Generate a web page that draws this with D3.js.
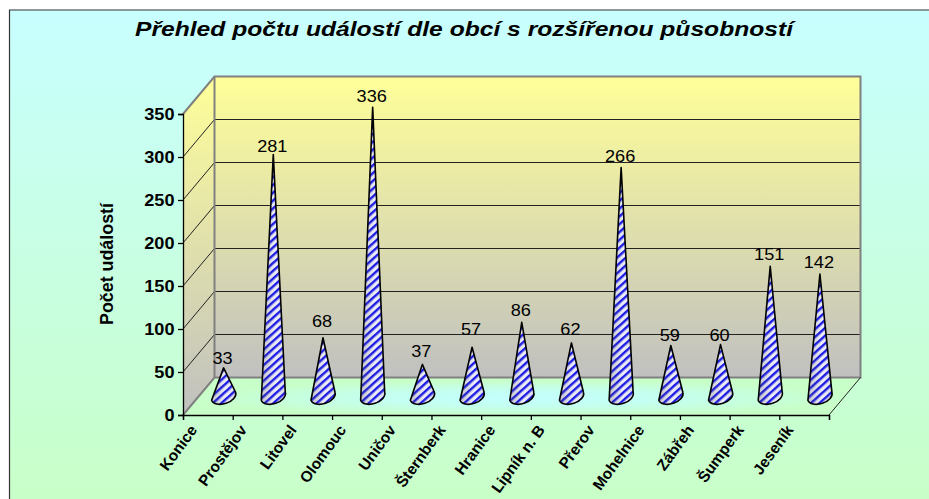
<!DOCTYPE html>
<html>
<head>
<meta charset="utf-8">
<script src="https://cdn.jsdelivr.net/npm/d3@7"></script>
<style>
html,body{margin:0;padding:0;background:#fff;}
svg{display:block;}
text{font-family:"Liberation Sans",Arial,sans-serif;fill:#000;}
</style>
</head>
<body>
<div id="chart"></div>
<script>
const categories = ["Konice","Prostějov","Litovel","Olomouc","Uničov","Šternberk","Hranice","Lipník n. B","Přerov","Mohelnice","Zábřeh","Šumperk","Jeseník"];
const values = [33,281,68,336,37,57,86,62,266,59,60,151,142];
const labelLift = [3.7,3,11,5.5,7.5,12,6,8,5,5,3.5,6,6];
const yTicks = [0,50,100,150,200,250,300,350];
const titleText = "Přehled počtu událostí dle obcí s rozšířenou působností";
const yTitle = "Počet událostí";

const W = 929, H = 499;
const plotLeft = 183, plotRight = 829, plotBottom = 415, plotTop = 114;
const depthX = 31.5, depthY = -37.5;

const svg = d3.select("#chart").append("svg").attr("width", W).attr("height", H);
const defs = svg.append("defs");

function vGrad(id, c1, c2){
  const g = defs.append("linearGradient").attr("id", id).attr("x1",0).attr("y1",0).attr("x2",0).attr("y2",1);
  g.append("stop").attr("offset",0).attr("stop-color",c1);
  g.append("stop").attr("offset",1).attr("stop-color",c2);
}
vGrad("bg","#c8ffff","#c8ffc8");
vGrad("wall","#ffff99","#c0c0c0");
const floorG = defs.append("radialGradient").attr("id","floor").attr("cx",0.5).attr("cy",0.55).attr("r",0.48);
floorG.append("stop").attr("offset",0).attr("stop-color","#c4ffff");
floorG.append("stop").attr("offset",0.45).attr("stop-color","#c4fff0");
floorG.append("stop").attr("offset",1).attr("stop-color","#c8ffc8");

const pat = defs.append("pattern").attr("id","stripes").attr("patternUnits","userSpaceOnUse")
  .attr("width",5.8).attr("height",5.8).attr("patternTransform","rotate(-42)");
pat.append("rect").attr("width",5.8).attr("height",5.8).attr("fill","#eeeefa");
pat.append("rect").attr("width",5.8).attr("height",2.4).attr("fill","#1a1ae8");
const shade = defs.append("linearGradient").attr("id","shade").attr("x1",0).attr("x2",1).attr("y1",0).attr("y2",0);
shade.append("stop").attr("offset",0).attr("stop-color","#555").attr("stop-opacity",0.28);
shade.append("stop").attr("offset",0.6).attr("stop-color","#555").attr("stop-opacity",0);
shade.append("stop").attr("offset",1).attr("stop-color","#555").attr("stop-opacity",0.12);

const x = d3.scaleBand().domain(categories).range([plotLeft,plotRight]);
const xEdge = d3.scaleLinear().domain([0,categories.length]).range([plotLeft,plotRight]);
const y = d3.scaleLinear().domain([0,350]).range([plotBottom,plotTop]);

// chart area
svg.append("rect").attr("x",9.5).attr("y",10).attr("width",W-9.5).attr("height",H-10).attr("fill","url(#bg)");
svg.append("path").attr("d",`M9.5,${H}V10H${W}`).attr("fill","none").attr("stroke","#333").attr("stroke-width",1.2);

// side wall, back wall, floor
const line = d3.line();
svg.append("path").attr("fill","url(#wall)")
  .attr("d",line([[plotLeft,y(350)],[plotLeft+depthX,y(350)+depthY],[plotLeft+depthX,y(0)+depthY],[plotLeft,y(0)]])+"Z");
svg.append("rect").attr("x",plotLeft+depthX).attr("y",y(350)+depthY)
  .attr("width",plotRight-plotLeft).attr("height",y(0)-y(350)).attr("fill","url(#wall)");
svg.append("path").attr("fill","url(#floor)")
  .attr("d",line([[plotLeft,y(0)],[plotLeft+depthX,y(0)+depthY],[plotRight+depthX,y(0)+depthY],[plotRight,y(0)]])+"Z");

// gridlines
const grid = yTicks.filter(d => d>0 && d<350);
svg.append("g").selectAll("path").data(grid).join("path")
  .attr("fill","none").attr("stroke","#222").attr("stroke-width",1)
  .attr("d",d => line([[plotLeft,y(d)],[plotLeft+depthX,y(d)+depthY],[plotRight+depthX,y(d)+depthY]]));

// wall borders
svg.append("path").attr("fill","none").attr("stroke","#808080").attr("stroke-width",2)
  .attr("d",line([[plotLeft,y(350)],[plotLeft+depthX,y(350)+depthY],[plotRight+depthX,y(350)+depthY],[plotRight+depthX,y(0)+depthY],[plotLeft+depthX,y(0)+depthY],[plotLeft,y(0)]]));
svg.append("path").attr("fill","none").attr("stroke","#808080").attr("stroke-width",2)
  .attr("d",line([[plotLeft+depthX,y(350)+depthY],[plotLeft+depthX,y(0)+depthY]]));
svg.append("path").attr("fill","none").attr("stroke","#222").attr("stroke-width",1)
  .attr("d",line([[plotRight,y(0)],[plotRight+depthX,y(0)+depthY]]));

// cones
const baseHalfW = 12, baseTilt = 4, rx = 12.65, ry = 7.5;
const cx = d => x(d)+x.bandwidth()/2+depthX/2;
const baseY = y(0)+depthY/2;
const apexY = v => y(v)+depthY/2;
const conePath = (c,v) =>
  `M${cx(c)},${apexY(v)}L${cx(c)-baseHalfW},${baseY+baseTilt}` +
  `A${rx},${ry} -18 0 0 ${cx(c)+baseHalfW},${baseY-baseTilt}Z`;
const cones = svg.append("g").selectAll("g").data(categories).join("g");
cones.append("path").attr("d",(c,i)=>conePath(c,values[i])).attr("fill","url(#stripes)");
cones.append("path").attr("d",(c,i)=>conePath(c,values[i])).attr("fill","url(#shade)")
  .attr("stroke","#000").attr("stroke-width",1.6).attr("stroke-linejoin","round");

// value labels
svg.append("g").selectAll("text").data(categories).join("text")
  .attr("text-anchor","middle").attr("font-size",16.5)
  .attr("transform",(c,i)=>`translate(${cx(c)-1},${apexY(values[i])-labelLift[i]}) scale(1.1,1)`)
  .text((c,i)=>values[i]);

// y axis
const yAxis = svg.append("g").attr("transform",`translate(${plotLeft},0)`)
  .call(d3.axisLeft(y).tickValues(yTicks).tickSize(5).tickPadding(0).tickFormat(""));
yAxis.selectAll("path,line").attr("stroke","#000").attr("stroke-width",1.3);
svg.append("g").selectAll("text").data(yTicks).join("text")
  .attr("text-anchor","end").attr("font-size",16.5).attr("font-weight","bold")
  .attr("transform",d=>`translate(174.5,${y(d)+6}) scale(1.1,1)`)
  .text(d=>d);

// x axis
const xAxis = svg.append("g").attr("transform",`translate(0,${plotBottom})`)
  .call(d3.axisBottom(xEdge).ticks(categories.length).tickSize(5).tickFormat(""));
xAxis.selectAll("path,line").attr("stroke","#000").attr("stroke-width",1.3);
svg.append("g").selectAll("text").data(categories).join("text")
  .attr("text-anchor","end").attr("font-size",15.5).attr("font-weight","bold")
  .attr("transform",c=>`translate(${x(c)+x.bandwidth()/2-10},${plotBottom+15}) rotate(-54)`)
  .text(c=>c);

// titles
svg.append("text").attr("x",464).attr("y",36).attr("text-anchor","middle")
  .attr("font-size",20.5).attr("font-weight","bold").attr("font-style","italic")
  .attr("textLength",658).attr("lengthAdjust","spacingAndGlyphs").text(titleText);
svg.append("text").attr("text-anchor","middle").attr("font-size",18).attr("font-weight","bold")
  .attr("transform","translate(113,264) rotate(-90)")
  .attr("textLength",122).attr("lengthAdjust","spacingAndGlyphs").text(yTitle);
</script>
</body>
</html>
